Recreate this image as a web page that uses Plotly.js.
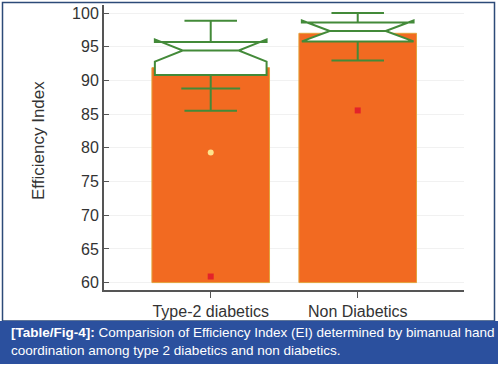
<!DOCTYPE html>
<html>
<head>
<meta charset="utf-8">
<script src="https://cdn.plot.ly/plotly-3.0.1.min.js"></script>
<style>
html,body{margin:0;padding:0;background:#fff;}
#chart{width:498px;height:366px;}
</style>
</head>
<body>
<div id="chart"></div>
<script>
// ---- data ----
var categories = ["Type-2 diabetics", "Non Diabetics"];
var barTops = [91.9, 97.0];
var barBase = 60;
var q1 = [90.8, 95.8];
var median = [94.45, 97.35];
var q3 = [95.7, 98.6];
var lowerFence = [85.5, 92.95];
var upperFence = [98.85, 100.0];
var notchSpan = [1.65, 1.55];
var innerCap = [88.8, null];
var mildOutliers = [79.3, null];
var extremeOutliers = [60.9, 85.55];
var yTickVals = [60, 65, 70, 75, 80, 85, 90, 95, 100];
var yTitle = "Efficiency Index";
var captionBold = "[Table/Fig-4]:";
var captionLine1 = " Comparision of Efficiency Index (EI) determined by bimanual hand";
var captionLine2 = "coordination among type 2 diabetics and non diabetics.";

// ---- layout geometry ----
var W = 498, H = 366;
var M = {l: 104, r: 34, t: 5, b: 76};
var PW = W - M.l - M.r, PH = H - M.t - M.b;
function px(x) { return (x - M.l) / PW; }
function py(y) { return (H - M.b - y) / PH; }

var green = '#438a39';

var traces = [
  {
    type: 'bar', x: categories,
    y: barTops.map(function (v) { return v - barBase; }),
    base: barBase, width: 0.8,
    marker: {color: '#f26a21', line: {color: '#e3a23c', width: 1}},
    showlegend: false, hoverinfo: 'skip'
  },
  {
    type: 'box', x: categories,
    q1: q1, median: median, q3: q3,
    lowerfence: lowerFence, upperfence: upperFence,
    notchspan: notchSpan, notched: true, notchwidth: 0.25,
    width: 0.76, whiskerwidth: 0.47,
    boxpoints: false,
    fillcolor: '#ffffff',
    line: {color: green, width: 2},
    showlegend: false
  },
  {
    type: 'scatter', mode: 'markers', x: categories, y: innerCap,
    marker: {symbol: 'line-ew', size: 42, line: {color: green, width: 2}},
    showlegend: false, hoverinfo: 'skip'
  },
  {
    type: 'scatter', mode: 'markers', x: categories, y: mildOutliers,
    marker: {symbol: 'circle', size: 6, color: '#fde38c'},
    showlegend: false
  },
  {
    type: 'scatter', mode: 'markers', x: categories, y: extremeOutliers,
    marker: {symbol: 'square', size: 6, color: '#e3232a'},
    showlegend: false
  }
];

var layout = {
  width: W, height: H,
  margin: M,
  paper_bgcolor: '#ffffff', plot_bgcolor: '#ffffff',
  font: {family: 'Liberation Sans, Arial, sans-serif', color: '#333333'},
  showlegend: false,
  xaxis: {
    type: 'category', range: [-0.726, 1.723],
    showline: true, linecolor: '#555555', linewidth: 2,
    ticks: 'outside', ticklen: 6, tickcolor: '#555555', tickwidth: 1,
    showgrid: false, zeroline: false,
    tickfont: {size: 16, color: '#333333'},
    fixedrange: true
  },
  yaxis: {
    range: [58.9, 101.2],
    tickvals: yTickVals,
    showline: true, linecolor: '#555555', linewidth: 2,
    ticks: 'inside', ticklen: 5, tickcolor: '#555555', tickwidth: 1,
    showgrid: true, gridcolor: '#f1f1f1', gridwidth: 1,
    zeroline: false,
    tickfont: {size: 16, color: '#333333'},
    fixedrange: true
  },
  shapes: [
    {type: 'rect', xref: 'paper', yref: 'paper', layer: 'below',
     x0: px(2.5), x1: px(494.5), y0: py(321), y1: py(2.5),
     line: {color: '#2c4a78', width: 1.5}, fillcolor: 'rgba(0,0,0,0)'},
    {type: 'rect', xref: 'paper', yref: 'paper', layer: 'above',
     x0: px(0), x1: px(498), y0: py(364), y1: py(321),
     line: {width: 0}, fillcolor: '#2b509e'}
  ],
  annotations: [
    {xref: 'paper', yref: 'paper', x: px(38), y: py(141),
     text: yTitle, textangle: -90, showarrow: false,
     font: {size: 17, color: '#333333'}, xanchor: 'center', yanchor: 'middle'},
    {xref: 'paper', yref: 'paper', x: px(9), y: py(323),
     text: '<b>' + captionBold + '</b>' + captionLine1 + '<br>' + captionLine2,
     showarrow: false, align: 'left', xanchor: 'left', yanchor: 'top',
     font: {size: 13.5, color: '#ffffff'}}
  ]
};

Plotly.newPlot('chart', traces, layout, {displayModeBar: false, staticPlot: true});
</script>
</body>
</html>
